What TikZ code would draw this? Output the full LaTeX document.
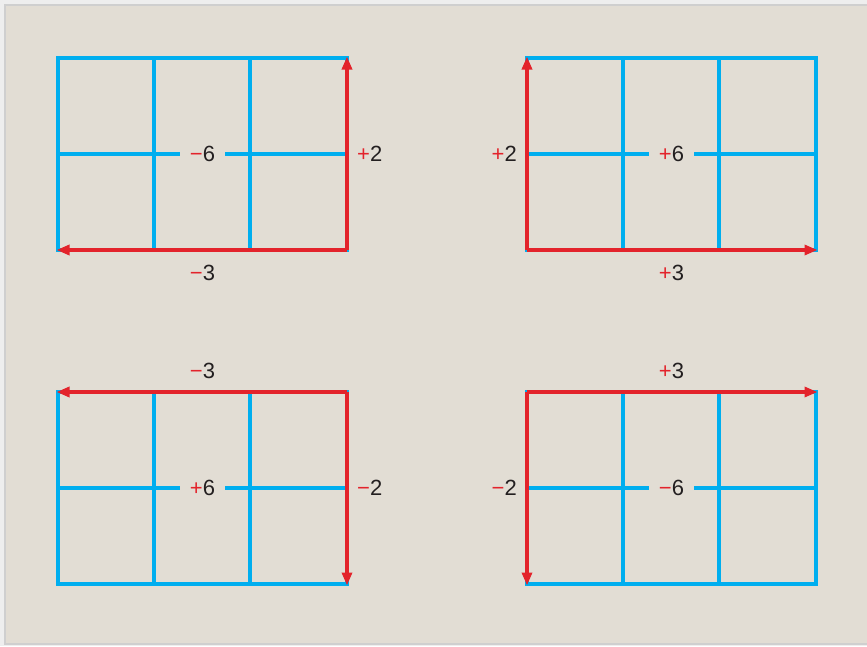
\documentclass[tikz,border=0pt]{standalone}
\usepackage{fontspec}
\setmainfont{Liberation Sans}
\usetikzlibrary{arrows.meta,calc}
\definecolor{bg}{HTML}{E2DDD4}
\definecolor{outer}{HTML}{EEEEEE}
\definecolor{frame}{HTML}{CFCFCF}
\definecolor{gridblue}{HTML}{00AEEF}
\definecolor{arrred}{HTML}{E3232B}
\definecolor{txt}{HTML}{231F20}
\newcommand{\pl}{{\color{arrred}+}}
\newcommand{\mi}{{\color{arrred}\char"2212}}
\tikzset{
  gridline/.style={draw=gridblue, line width=3.2pt},
  redarrow/.style={draw=arrred, line width=3.2pt, -{Triangle[length=13pt,width=10pt]}, shorten >=-1.5pt},
  lbl/.style={text=txt, font=\fontsize{22}{26}\selectfont, inner sep=1pt},
  midlbl/.style={lbl, fill=bg, inner xsep=10pt, inner ysep=3pt},
}
\begin{document}
\begin{tikzpicture}[x=1pt,y=-1pt]
\useasboundingbox (0,0) rectangle (867,646);
\fill[outer] (0,0) rectangle (867,646);
\fill[bg, draw=frame, line width=2pt] (5,5) rectangle (870,644);
% ---------- panels ----------
\foreach \n/\ox/\oy in {A/58/58, B/527/58, C/58/392, D/527/392}{
  \begin{scope}[shift={(\ox,\oy)}]
    \coordinate (\n-nw) at (0,0);
    \coordinate (\n-ne) at (289,0);
    \coordinate (\n-sw) at (0,192);
    \coordinate (\n-se) at (289,192);
    \coordinate (\n-ml) at (0,96);
    \coordinate (\n-mr) at (289,96);
    \coordinate (\n-c) at (144.5,96);
    \draw[gridline] (\n-nw) rectangle (\n-se);
    \draw[gridline] (\n-ml) -- (\n-mr);
    \draw[gridline] (96,0) -- (96,192);
    \draw[gridline] (192,0) -- (192,192);
  \end{scope}
}
% middle labels
\node[midlbl] (A-lab) at (A-c) {\mi6};
\node[midlbl] (B-lab) at (B-c) {\pl6};
\node[midlbl] (C-lab) at (C-c) {\pl6};
\node[midlbl] (D-lab) at (D-c) {\mi6};
% red arrows
\draw[redarrow] (A-se) -- (A-ne);
\draw[redarrow] (A-se) -- (A-sw);
\draw[redarrow] (B-sw) -- (B-nw);
\draw[redarrow] (B-sw) -- (B-se);
\draw[redarrow] (C-ne) -- (C-nw);
\draw[redarrow] (C-ne) -- (C-se);
\draw[redarrow] (D-nw) -- (D-ne);
\draw[redarrow] (D-nw) -- (D-sw);
% side labels
\node[lbl, anchor=west] (A-r) at ([xshift=9pt]A-mr) {\pl2};
\node[lbl] (A-b) at ([yshift=-23pt]$(A-sw)!0.5!(A-se)$) {\mi3};
\node[lbl, anchor=east] (B-l) at ([xshift=-9pt]B-ml) {\pl2};
\node[lbl] (B-b) at ([yshift=-23pt]$(B-sw)!0.5!(B-se)$) {\pl3};
\node[lbl] (C-t) at ([yshift=21pt]$(C-nw)!0.5!(C-ne)$) {\mi3};
\node[lbl, anchor=west] (C-r) at ([xshift=9pt]C-mr) {\mi2};
\node[lbl] (D-t) at ([yshift=21pt]$(D-nw)!0.5!(D-ne)$) {\pl3};
\node[lbl, anchor=east] (D-l) at ([xshift=-9pt]D-ml) {\mi2};
\end{tikzpicture}
\end{document}
